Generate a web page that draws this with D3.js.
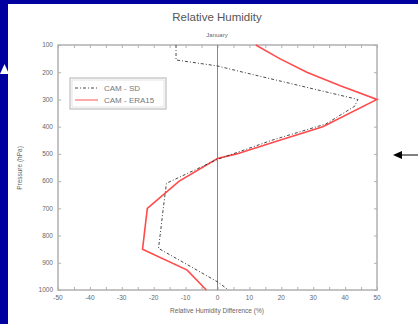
<!DOCTYPE html>
<html>
<head>
<meta charset="utf-8">
<script src="https://cdn.jsdelivr.net/npm/d3@7"></script>
<style>
  body { margin: 0; background: #0000a0; }
  svg { display: block; }
  text { font-family: "Liberation Sans", Arial, sans-serif; }
</style>
</head>
<body>
<div id="chart"></div>
<script>
// pressure levels (hPa) and RH differences (%)
const sdLevels = [100, 155, 177, 200, 250, 300, 325, 390, 450, 520, 608, 700, 800, 847, 900, 970, 1000];
const sdValues = [-13, -13, 0, 8, 26, 44, 43, 34, 17, 0, -16, -17, -18, -18.5, -10.5, 0, 3.5];
const eraLevels = [100, 150, 200, 250, 300, 400, 450, 500, 517, 600, 700, 800, 850, 927, 1000];
const eraValues = [12, 19.5, 28, 38.5, 50, 33, 19.5, 6, 0, -12, -22, -23, -23.5, -9.5, -3.5];
const xTicks = [-50, -40, -30, -20, -10, 0, 10, 20, 30, 40, 50];
const yTicks = [100, 200, 300, 400, 500, 600, 700, 800, 900, 1000];

const W = 418, H = 324;
const margin = { top: 45, right: 41, bottom: 34, left: 58 },
  width = W - margin.left - margin.right,
  height = H - margin.top - margin.bottom;

const root = d3.select("#chart").append("svg").attr("width", W).attr("height", H);

// white slide panel over blue
root.append("rect").attr("x", 8).attr("y", 4).attr("width", W - 8).attr("height", H - 4).attr("fill", "#fff");
root.append("path").attr("d", "M0,74 L4.5,64 L9,74 Z").attr("fill", "#fff");

const svg = root.append("g").attr("transform", `translate(${margin.left},${margin.top})`);

const x = d3.scaleLinear().domain([-50, 50]).range([0, width]);
const y = d3.scaleLinear().domain([100, 1000]).range([0, height]);

const frame = "#b0b0b0", ink = "#666";

// ticks inward on all four sides
const xAxisB = d3.axisBottom(x).tickValues(d3.range(-50, 51, 5)).tickSize(-3).tickFormat("");
const xAxisT = d3.axisTop(x).tickValues(d3.range(-50, 51, 5)).tickSize(-3).tickFormat("");
const yAxisL = d3.axisLeft(y).tickValues(yTicks).tickSize(-3).tickFormat("");
const yAxisR = d3.axisRight(y).tickValues(yTicks).tickSize(-3).tickFormat("");

[[xAxisB, `translate(0,${height})`], [xAxisT, null], [yAxisL, null], [yAxisR, `translate(${width},0)`]]
  .forEach(([ax, tr]) => {
    const g = svg.append("g").call(ax);
    if (tr) g.attr("transform", tr);
    g.select(".domain").remove();
    g.selectAll("line").attr("stroke", frame);
  });

svg.append("rect").attr("width", width).attr("height", height)
  .attr("fill", "none").attr("stroke", frame).attr("stroke-width", 1.5);

// tick labels
svg.selectAll(".xl").data(xTicks).join("text")
  .attr("x", d => x(d)).attr("y", height + 10)
  .attr("text-anchor", "middle").attr("font-size", 6.5).attr("fill", ink)
  .text(d => d);
svg.selectAll(".yl").data(yTicks).join("text")
  .attr("x", -5).attr("y", d => y(d) + 2.3)
  .attr("text-anchor", "end").attr("font-size", 6.5).attr("fill", ink)
  .text(d => d);

// zero line
svg.append("line").attr("x1", x(0)).attr("x2", x(0)).attr("y1", 0).attr("y2", height)
  .attr("stroke", "#888").attr("stroke-width", 1);

const line = d3.line().x(d => x(d[1])).y(d => y(d[0]));

svg.append("path").datum(d3.zip(eraLevels, eraValues))
  .attr("fill", "none").attr("stroke", "#ff4b4b").attr("stroke-width", 1.6)
  .attr("d", line);
svg.append("path").datum(d3.zip(sdLevels, sdValues))
  .attr("fill", "none").attr("stroke", "#333").attr("stroke-width", 0.9)
  .attr("stroke-dasharray", "3,2,1,2")
  .attr("d", line);

// legend
const lg = root.append("g").attr("transform", "translate(70,78)");
lg.append("rect").attr("width", 96).attr("height", 31).attr("fill", "#fff")
  .attr("stroke", frame).attr("stroke-width", 1);
lg.append("rect").attr("x", 2).attr("y", 2).attr("width", 92).attr("height", 27).attr("fill", "none")
  .attr("stroke", "#ddd").attr("stroke-width", 0.8);
const legendItems = [
  { name: "CAM - SD", color: "#333", dash: "3,2,1,2", w: 0.9 },
  { name: "CAM - ERA15", color: "#ff7070", dash: null, w: 1.2 }
];
legendItems.forEach((d, i) => {
  const yy = 10 + i * 12;
  lg.append("line").attr("x1", 5).attr("x2", 28).attr("y1", yy).attr("y2", yy)
    .attr("stroke", d.color).attr("stroke-width", d.w).attr("stroke-dasharray", d.dash);
  lg.append("text").attr("x", 34).attr("y", yy + 3).attr("font-size", 8).attr("fill", "#777").text(d.name);
});

// titles
root.append("text").attr("x", 217).attr("y", 21).attr("text-anchor", "middle")
  .attr("font-size", 11.5).attr("fill", "#555").text("Relative Humidity");
root.append("text").attr("x", 217).attr("y", 37).attr("text-anchor", "middle")
  .attr("font-size", 6).attr("fill", "#666").text("January");
root.append("text").attr("x", 217).attr("y", 313).attr("text-anchor", "middle")
  .attr("font-size", 6.5).attr("fill", ink).text("Relative Humidity Difference (%)");
root.append("text").attr("transform", "translate(22,168) rotate(-90)").attr("text-anchor", "middle")
  .attr("font-size", 6.5).attr("fill", ink).text("Pressure (hPa)");

// pointer arrow on the right
root.append("line").attr("x1", 400).attr("x2", 418).attr("y1", 155).attr("y2", 155)
  .attr("stroke", "#000").attr("stroke-width", 1);
root.append("path").attr("d", "M393,155 L402,151 L402,159 Z").attr("fill", "#000");
</script>
</body>
</html>
